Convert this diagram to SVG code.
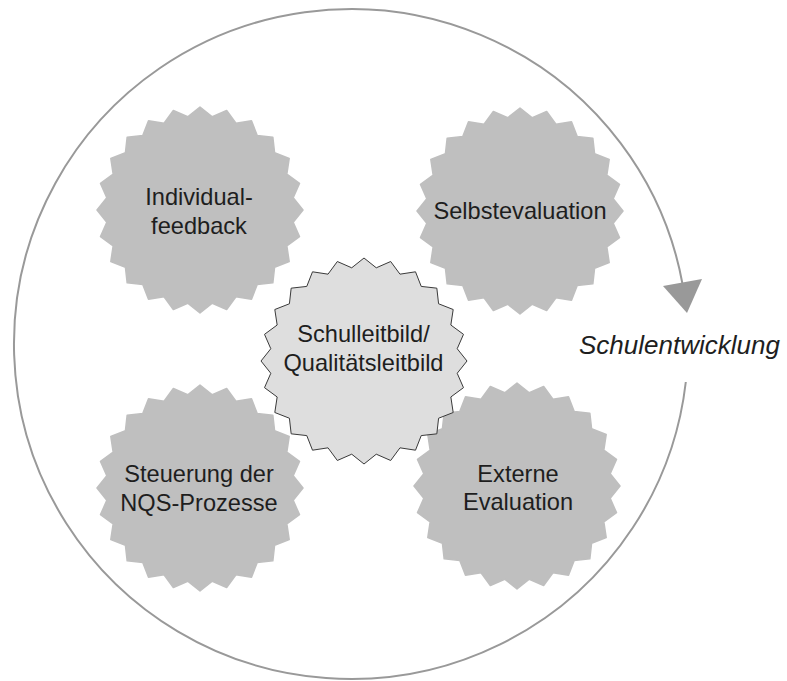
<svg xmlns="http://www.w3.org/2000/svg" xmlns:xlink="http://www.w3.org/1999/xlink" width="787" height="681" viewBox="0 0 787 681">
<style>
.burst{fill:#bfbfbf;stroke:#bfbfbf;stroke-width:1.5;stroke-linejoin:round}
.core{fill:#dedede;stroke:#3a3a3a;stroke-width:1;stroke-linejoin:round}
.lbl{font-family:"Liberation Sans",Arial,sans-serif;font-size:23.6px;fill:#1e1e1e;text-anchor:middle}
.cycle{fill:none;stroke:#999;stroke-width:2}
.head{fill:#999}
.title{font-family:"Liberation Sans",Arial,sans-serif;font-size:26px;font-style:italic;fill:#1e1e1e}
</style>
<defs>
<polygon id="star" points="0,-103 12.27,-93.2 26.66,-99.49 35.97,-86.84 51.5,-89.2 57.22,-74.58 72.83,-72.83 74.58,-57.22 89.2,-51.5 86.84,-35.97 99.49,-26.66 93.2,-12.27 103,0 93.2,12.27 99.49,26.66 86.84,35.97 89.2,51.5 74.58,57.22 72.83,72.83 57.22,74.58 51.5,89.2 35.97,86.84 26.66,99.49 12.27,93.2 0,103 -12.27,93.2 -26.66,99.49 -35.97,86.84 -51.5,89.2 -57.22,74.58 -72.83,72.83 -74.58,57.22 -89.2,51.5 -86.84,35.97 -99.49,26.66 -93.2,12.27 -103,0 -93.2,-12.27 -99.49,-26.66 -86.84,-35.97 -89.2,-51.5 -74.58,-57.22 -72.83,-72.83 -57.22,-74.58 -51.5,-89.2 -35.97,-86.84 -26.66,-99.49 -12.27,-93.2"/>
</defs>
<g id="connectors">
<path class="cycle" d="M 685.8 382 A 337 335 0 1 1 682.7 285"/>
<polygon class="head" points="663,286 702,279 687,313"/>
</g>
<g id="individualfeedback">
<use xlink:href="#star" href="#star" class="burst" transform="translate(200,210)"/>
<text class="lbl" x="199" y="205">Individual-</text>
<text class="lbl" x="199" y="234">feedback</text>
</g>
<g id="selbstevaluation">
<use xlink:href="#star" href="#star" class="burst" transform="translate(520,211)"/>
<text class="lbl" x="520" y="219">Selbstevaluation</text>
</g>
<g id="steuerung">
<use xlink:href="#star" href="#star" class="burst" transform="translate(200,488)"/>
<text class="lbl" x="199" y="482">Steuerung der</text>
<text class="lbl" x="199" y="511">NQS-Prozesse</text>
</g>
<g id="externe-evaluation">
<use xlink:href="#star" href="#star" class="burst" transform="translate(517,486)"/>
<text class="lbl" x="518" y="482">Externe</text>
<text class="lbl" x="518" y="510">Evaluation</text>
</g>
<g id="schulleitbild">
<use xlink:href="#star" href="#star" class="core" transform="translate(364,361)"/>
<text class="lbl" x="363.5" y="342">Schulleitbild/</text>
<text class="lbl" x="363.5" y="371">Qualitätsleitbild</text>
</g>
<g id="schulentwicklung">
<text class="title" x="579" y="354">Schulentwicklung</text>
</g>
</svg>
